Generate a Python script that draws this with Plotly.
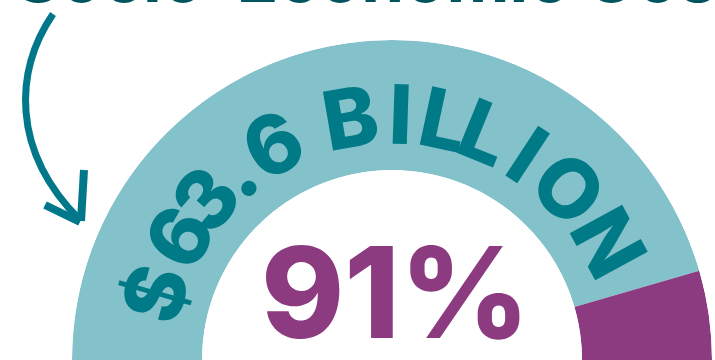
import plotly.graph_objects as go
import math

# ---- data ----
segment_labels = ["Other", "Share"]
segment_values = [91, 9]          # percent of the half-ring
segment_colors = ["#83C1CB", "#8C3B80"]
center_label = "91%"
ring_label = "$63.6 BILLION"
title_text = "Socio-Economic Cost"

# ---- geometry (pixels) ----
W, H = 715, 360
CX, CY = 392, 360
R_OUT, R_IN = 320, 190
R_TEXT = 246
# angle (deg, ccw from east) of each non-space character of the ring label
char_angles = [164.3, 150.0, 139.3, 129.7, 118.9, 99.8, 88.1, 77.9, 67.8, 56.7, 44.2, 28.5]

# half-ring as barpolar: values map onto 180 degrees, drawn clockwise from west
total = sum(segment_values)
thetas, widths = [], []
start = 180.0
for v in segment_values:
    w = 180.0 * v / total
    thetas.append(start - w / 2)
    widths.append(w)
    start -= w

fig = go.Figure()
fig.add_trace(go.Barpolar(
    r=[1] * len(segment_values), theta=thetas, width=widths,
    marker=dict(color=segment_colors, line=dict(width=0)),
    text=segment_labels, hoverinfo="skip", showlegend=False,
))
# empty cartesian trace so pixel-space axes exist for annotations/shapes
fig.add_trace(go.Scatter(x=[], y=[], hoverinfo="skip", showlegend=False))

annotations = []
# ring label, one character per annotation along the arc
chars = [c for c in ring_label if c != " "]
for ch, ang in zip(chars, char_angles):
    a = math.radians(ang)
    annotations.append(dict(
        x=CX + R_TEXT * math.cos(a), y=CY - R_TEXT * math.sin(a),
        xref="x", yref="y", text=ch, showarrow=False,
        xanchor="center", yanchor="middle", textangle=90 - ang,
        font=dict(family="Inter", size=82, weight=800, color="#017A87"),
    ))
# center value
annotations.append(dict(
    x=395, y=292, xref="x", yref="y", text=center_label, showarrow=False,
    xanchor="center", yanchor="middle",
    font=dict(family="Inter", size=126, weight=800, color="#8C3B80"),
))
# title, mostly cut off by the top edge (only the bottoms of the letters show)
annotations.append(dict(
    x=13 / W, y=1 - 21.5 / H, xref="paper", yref="paper", text=title_text,
    showarrow=False, xanchor="left", yanchor="bottom",
    font=dict(family="Inter", size=69, weight=700, color="#00545E"),
))

shapes = [
    dict(type="path", xref="x", yref="y",
         path="M 53 14 C 15 70, 10 150, 80 220",
         line=dict(color="#00788A", width=7)),
    dict(type="path", xref="x", yref="y",
         path="M 45 205 L 80 222",
         line=dict(color="#00788A", width=8)),
    dict(type="path", xref="x", yref="y",
         path="M 84 170 L 81 221",
         line=dict(color="#00788A", width=8)),
]

fig.update_layout(
    width=W, height=H, margin=dict(l=0, r=0, t=0, b=0),
    paper_bgcolor="white", plot_bgcolor="rgba(0,0,0,0)",
    polar=dict(
        domain=dict(x=[(CX - R_OUT) / W, (CX + R_OUT) / W], y=[0, R_OUT / H]),
        sector=[0, 180], hole=R_IN / R_OUT, bgcolor="rgba(0,0,0,0)",
        radialaxis=dict(range=[0, 1], visible=False),
        angularaxis=dict(visible=False, direction="counterclockwise", rotation=0),
    ),
    xaxis=dict(range=[0, W], visible=False, fixedrange=True),
    yaxis=dict(range=[H, 0], visible=False, fixedrange=True),
    annotations=annotations, shapes=shapes,
)

fig.write_html("out.html")
